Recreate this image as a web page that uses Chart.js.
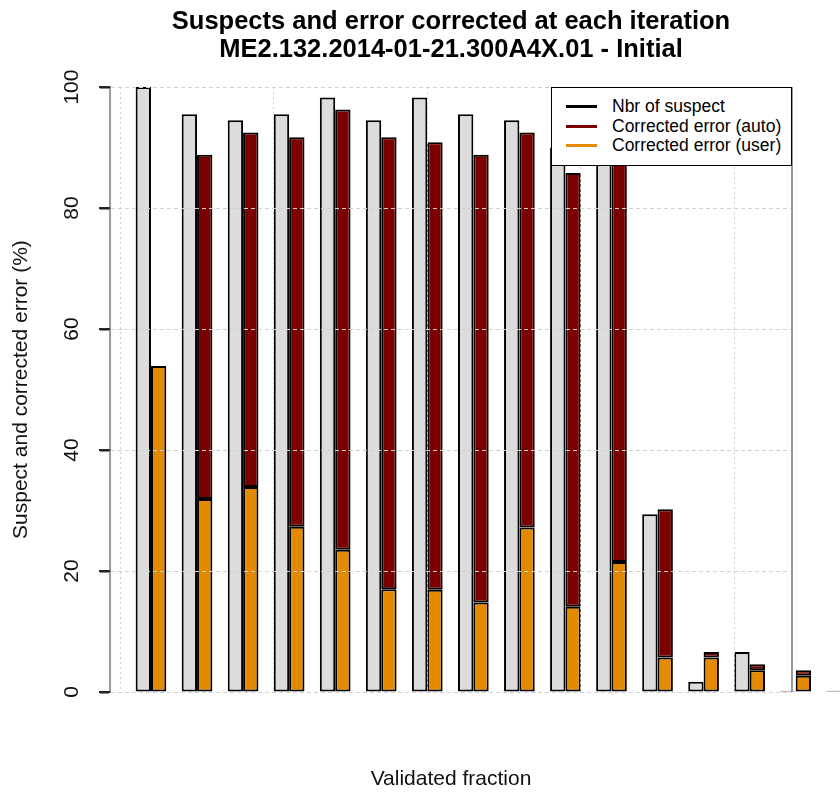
<!DOCTYPE html>
<html>
<head>
<meta charset="utf-8">
<script src="https://cdn.jsdelivr.net/npm/chart.js@4.4.1/dist/chart.umd.min.js"></script>
<style>
    html, body { margin: 0; padding: 0; background: #fff; }
    #caixa { position: relative; width: 840px; height: 792px; }
    #legenda {
        position: absolute; left: 551px; top: 87px; width: 239px; height: 77px;
        border: 1.5px solid #000; background: #fff;
        font-family: "Liberation Sans", Arial, sans-serif; font-size: 17.5px; color: #000;
    }
    #legenda .item { position: absolute; left: 0; height: 20px; line-height: 20px; white-space: nowrap; }
    #legenda .linha { position: absolute; left: 14px; top: 9px; width: 31px; height: 3px; }
    #legenda .texto { position: absolute; left: 60px; top: 0; }
</style>
</head>
<body>
<div id="caixa">
    <canvas id="grafico" width="840" height="792"></canvas>
    <div id="legenda"></div>
</div>
<script>
// iterations (one group of bars each)
var iteracoes = [1, 2, 3, 4, 5, 6, 7, 8, 9, 10, 11, 12, 13, 14, 15, 16];
// Nbr of suspect (%)
var suspeitos = [100, 95.5, 94.5, 95.5, 98.3, 94.5, 98.3, 95.5, 94.5, 90, 92, 29.4, 1.7, 6.6, 0.2, 0.2];
// Corrected error (user) (%) - bottom part of the stacked bar
var corrigidoUser = [53.9, 31.9, 33.9, 27.3, 23.5, 17.0, 16.9, 14.8, 27.2, 14.1, 21.5, 5.7, 5.7, 3.6, 2.7, 0];
// Corrected error (auto) (%) - top part of the stacked bar
var corrigidoAuto = [0, 56.9, 58.6, 64.4, 72.8, 74.7, 74.0, 74.0, 65.3, 71.7, 67.5, 24.5, 0.9, 1.0, 0.9, 0];

var yTicks = [0, 20, 40, 60, 80, 100];
// vertical grid lines (R grid() over barplot coordinates 0,10,20,30,40)
var gradeX = [1 / 3, 11 / 3, 7, 31 / 3, 41 / 3];

var legendas = ['Nbr of suspect', 'Corrected error (auto)', 'Corrected error (user)'];
var coresLegenda = ['#000000', '#7d0000', '#e38a00'];

var fonte = '"Liberation Sans", Arial, sans-serif';

function pontos(valores) {
    return iteracoes.map(function (it, i) { return { x: it, y: valores[i] }; });
}

// legend box (inside the plot, top right)
var legenda = document.getElementById('legenda');
legendas.forEach(function (txt, i) {
    var item = document.createElement('div');
    item.className = 'item';
    item.style.top = (8 + i * 19.5) + 'px';
    item.innerHTML = '<span class="linha" style="background:' + coresLegenda[i] + '"></span><span class="texto">' + txt + '</span>';
    legenda.appendChild(item);
});

// box sides, y ticks and rotated y labels like R
var eixoY = {
    id: 'eixoY',
    afterDraw: function (chart) {
        var escala = chart.scales.y;
        var ex = chart.scales.x;
        var esq = ex.left, dir = ex.right, topo = escala.top, base = escala.bottom;
        var ctx = chart.ctx;
        ctx.save();
        ctx.setLineDash([]);
        ctx.globalAlpha = 1;
        ctx.fillStyle = '#9a9a9a';
        ctx.fillRect(esq - 1, topo, 2, base - topo);
        ctx.fillRect(dir - 1, topo, 2, base - topo);

        ctx.font = '21px ' + fonte;
        ctx.textAlign = 'center';
        ctx.textBaseline = 'middle';
        escala.ticks.forEach(function (t) {
            var py = escala.getPixelForValue(t.value);
            ctx.fillStyle = '#222';
            ctx.fillRect(esq - 11, py - 1, 11, 2);
            ctx.fillStyle = '#111';
            ctx.save();
            ctx.translate(72, py);
            ctx.rotate(-Math.PI / 2);
            ctx.fillText(String(t.value), 0, 0);
            ctx.restore();
        });
        ctx.restore();
    }
};

var ctx = document.getElementById('grafico').getContext('2d');
var myChart = new Chart(ctx, {
    type: 'bar',
    data: {
        datasets: [{
            label: legendas[0],
            data: pontos(suspeitos),
            stack: 'sus',
            backgroundColor: '#dcdcdc'
        }, {
            label: legendas[2],
            data: pontos(corrigidoUser),
            stack: 'cor',
            backgroundColor: '#e38a00'
        }, {
            label: legendas[1],
            data: pontos(corrigidoAuto),
            stack: 'cor',
            backgroundColor: '#7d0000'
        }]
    },
    options: {
        responsive: false,
        animation: false,
        clip: false,
        borderColor: '#000',
        borderWidth: 2,
        borderSkipped: false,
        barPercentage: 1,
        categoryPercentage: 2 / 3,
        layout: { padding: { top: 0, right: 48, bottom: 0, left: 0 } },
        plugins: {
            legend: { display: false },
            tooltip: { enabled: false },
            title: {
                display: true,
                fullSize: false,
                text: ['Suspects and error corrected at each iteration', 'ME2.132.2014-01-21.300A4X.01 - Initial'],
                color: '#000',
                font: { family: fonte, size: 25.5, weight: 'bold', lineHeight: 1.1 },
                padding: { top: 8, bottom: 23 }
            }
        },
        scales: {
            x: {
                type: 'linear',
                stacked: true,
                min: 0.11,
                max: 14.92,
                offset: false,
                afterBuildTicks: function (escala) {
                    escala.ticks = gradeX.map(function (v) { return { value: v }; });
                },
                afterFit: function (escala) { escala.height = 100; },
                ticks: { display: false },
                grid: { color: '#d0d0d0', lineWidth: 1, z: 1, drawTicks: false, offset: false },
                border: { display: false, dash: [2, 3] },
                title: {
                    display: true,
                    text: 'Validated fraction',
                    color: '#111',
                    font: { family: fonte, size: 21 },
                    padding: { top: 0, bottom: 0 }
                }
            },
            y: {
                stacked: true,
                min: 0,
                max: 100,
                afterBuildTicks: function (escala) {
                    escala.ticks = yTicks.map(function (v) { return { value: v }; });
                },
                afterFit: function (escala) { escala.width = 110; },
                ticks: { display: false },
                grid: { color: '#d0d0d0', lineWidth: 1, z: 1, drawTicks: true, tickLength: 10, tickColor: '#222', tickWidth: 2, tickBorderDash: [] },
                border: { display: true, color: '#9a9a9a', width: 2, z: 2, dash: [4, 3] },
                title: {
                    display: true,
                    text: 'Suspect and corrected error (%)',
                    color: '#111',
                    font: { family: fonte, size: 21 },
                    padding: { top: 9, bottom: 0 }
                }
            }
        }
    },
    plugins: [eixoY]
});
</script>
</body>
</html>
